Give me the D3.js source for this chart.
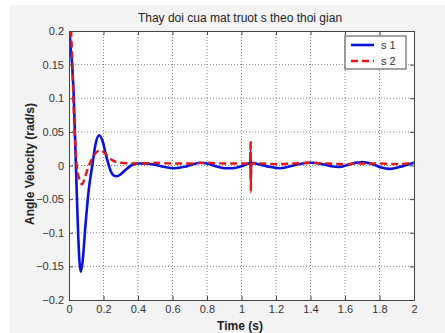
<!DOCTYPE html>
<html>
<head>
<meta charset="utf-8">
<script src="https://cdn.jsdelivr.net/npm/d3@7"></script>
<style>
  body { margin: 0; background: #fff; }
  text { font-family: Arial, "Liberation Sans", sans-serif; }
</style>
</head>
<body>
<div id="chart"></div>
<script>
// data
var s1T = [0, 0.004, 0.018, 0.028, 0.034, 0.04, 0.05, 0.06, 0.068, 0.078, 0.095, 0.115, 0.135, 0.155, 0.175, 0.195, 0.215, 0.24, 0.26, 0.278, 0.3, 0.33, 0.36, 0.4, 0.45, 0.5, 0.55, 0.61, 0.67, 0.72, 0.76, 0.8, 0.85, 0.9, 0.95, 1.0, 1.04, 1.052, 1.053, 1.054, 1.056, 1.1, 1.16, 1.22, 1.27, 1.33, 1.41, 1.47, 1.52, 1.57, 1.63, 1.7, 1.76, 1.81, 1.86, 1.92, 1.97, 2.0];
var s1V = [0.3, 0.2, 0.15, 0.1, 0.05, 0, -0.08, -0.14, -0.158, -0.145, -0.09, -0.035, 0.0, 0.033, 0.045, 0.036, 0.015, -0.007, -0.015, -0.016, -0.013, -0.006, 0, 0.003, 0.003, 0.001, -0.002, -0.004, -0.002, 0.002, 0.004, 0.003, -0.001, -0.004, -0.004, -0.001, 0.003, 0.004, 0.02, -0.02, 0.004, 0.002, -0.002, -0.004, -0.002, 0.002, 0.004, 0.002, -0.001, -0.002, 0.002, 0.005, 0.002, -0.003, -0.005, -0.002, 0.002, 0.004];

var s2T = [0, 0.012, 0.02, 0.025, 0.033, 0.045, 0.06, 0.076, 0.095, 0.115, 0.145, 0.18, 0.21, 0.25, 0.3, 0.4, 0.5, 0.6, 0.7, 0.8, 0.9, 1.0, 1.052, 1.053, 1.054, 1.056, 1.1, 1.2, 1.3, 1.4, 1.5, 1.6, 1.7, 1.8, 1.9, 2.0];
var s2V = [0.3, 0.2, 0.15, 0.1, 0.05, 0, -0.02, -0.028, -0.015, 0, 0.015, 0.023, 0.018, 0.008, 0.004, 0.003, 0.004, 0.003, 0.003, 0.004, 0.003, 0.003, 0.003, 0.037, -0.04, 0.003, 0.003, 0.002, 0.003, 0.004, 0.003, 0.002, 0.003, 0.003, 0.002, 0.004];

var xTicks = [0, 0.2, 0.4, 0.6, 0.8, 1, 1.2, 1.4, 1.6, 1.8, 2];
var yTicks = [-0.2, -0.15, -0.1, -0.05, 0, 0.05, 0.1, 0.15, 0.2];
var seriesNames = ["s 1", "s 2"];

var W = 445, H = 333;
var margin = {top: 31, right: 31, bottom: 33, left: 69},
    width = W - margin.left - margin.right,
    height = H - margin.top - margin.bottom;

var svg = d3.select("#chart").append("svg")
    .attr("width", W)
    .attr("height", H);

// figure background
svg.append("rect")
    .attr("x", 10).attr("y", 5)
    .attr("width", W - 10).attr("height", H - 5)
    .style("fill", "#f3f3f3");

var g = svg.append("g")
    .attr("transform", "translate(" + margin.left + "," + margin.top + ")");

var x = d3.scaleLinear().domain([0, 2]).range([0, width]);
var y = d3.scaleLinear().domain([-0.2, 0.2]).range([height, 0]);

g.append("rect")
    .attr("width", width).attr("height", height)
    .style("fill", "#fff");

// grid
g.selectAll(".gx").data(xTicks.slice(1, -1)).enter().append("line")
    .attr("x1", function(d) { return x(d); }).attr("x2", function(d) { return x(d); })
    .attr("y1", 0).attr("y2", height)
    .style("stroke", "#888").style("stroke-width", 1).style("stroke-dasharray", "1,2");
g.selectAll(".gy").data(yTicks.slice(1, -1)).enter().append("line")
    .attr("y1", function(d) { return y(d); }).attr("y2", function(d) { return y(d); })
    .attr("x1", 0).attr("x2", width)
    .style("stroke", "#888").style("stroke-width", 1).style("stroke-dasharray", "1,2");

// curves
g.append("clipPath").attr("id", "clip")
  .append("rect").attr("width", width).attr("height", height);

var line = d3.line()
    .x(function(d) { return x(d[0]); })
    .y(function(d) { return y(d[1]); })
    .curve(d3.curveMonotoneX);

var s1 = d3.zip(s1T, s1V), s2 = d3.zip(s2T, s2V);

g.append("path").datum(s1)
    .attr("clip-path", "url(#clip)")
    .attr("d", line)
    .style("fill", "none").style("stroke", "#0a14d8").style("stroke-width", 2.6);

g.append("path").datum(s2)
    .attr("clip-path", "url(#clip)")
    .attr("d", line)
    .style("fill", "none").style("stroke", "#e01818").style("stroke-width", 2.4)
    .style("stroke-dasharray", "7,4");

// axes (MATLAB style: ticks inside, box all round)
var fmt = function(d) { return d3.format("")(+d.toFixed(2)); };
g.append("g")
    .attr("transform", "translate(0," + height + ")")
    .call(d3.axisBottom(x).tickValues(xTicks).tickSize(-4).tickPadding(5).tickFormat(fmt));
g.append("g")
    .call(d3.axisLeft(y).tickValues(yTicks).tickSize(-4).tickPadding(5).tickFormat(fmt));
g.append("g")
    .call(d3.axisTop(x).tickValues(xTicks).tickSize(-4).tickFormat(""));
g.append("g")
    .attr("transform", "translate(" + width + ",0)")
    .call(d3.axisRight(y).tickValues(yTicks).tickSize(-4).tickFormat(""));

g.selectAll(".domain").style("stroke", "#444");
g.selectAll(".tick line").style("stroke", "#444");
g.selectAll(".tick text")
    .style("font-family", "Arial, 'Liberation Sans', sans-serif")
    .style("font-size", "11px").style("fill", "#333");

// title and labels
svg.append("text")
    .attr("x", 240).attr("y", 22)
    .attr("text-anchor", "middle")
    .style("font-size", "12px").style("fill", "#222")
    .text("Thay doi cua mat truot s theo thoi gian");

svg.append("text")
    .attr("x", 240).attr("y", 330)
    .attr("text-anchor", "middle")
    .style("font-size", "12px").style("font-weight", "bold").style("fill", "#222")
    .text("Time (s)");

svg.append("text")
    .attr("transform", "translate(34,164) rotate(-90)")
    .attr("text-anchor", "middle")
    .style("font-size", "12px").style("font-weight", "bold").style("fill", "#222")
    .text("Angle Velocity (rad/s)");

// legend
var lg = svg.append("g").attr("transform", "translate(345,36)");
lg.append("rect")
    .attr("width", 61).attr("height", 33)
    .style("fill", "#fff").style("stroke", "#444").style("stroke-width", 1);
var legStyles = [{c: "#0a14d8", dash: null, w: 2.6}, {c: "#e01818", dash: "7,4", w: 2.4}];
seriesNames.forEach(function(name, i) {
  var yy = 9 + i * 16;
  lg.append("line")
      .attr("x1", 6).attr("x2", 29).attr("y1", yy).attr("y2", yy)
      .style("stroke", legStyles[i].c).style("stroke-width", legStyles[i].w)
      .style("stroke-dasharray", legStyles[i].dash);
  lg.append("text")
      .attr("x", 36).attr("y", yy + 4)
      .style("font-size", "11px").style("fill", "#333")
      .text(name);
});
</script>
</body>
</html>
